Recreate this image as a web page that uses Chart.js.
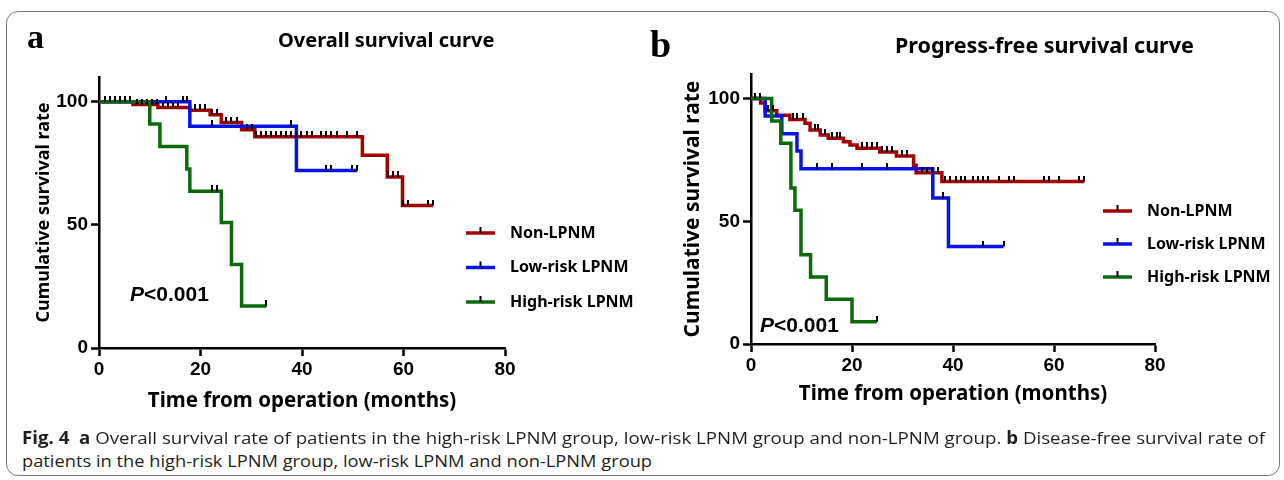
<!DOCTYPE html>
<html>
<head>
<meta charset="utf-8">
<script src="https://cdn.jsdelivr.net/npm/chart.js@4.4.1/dist/chart.umd.min.js"></script>
<style>
  body { margin: 0; background: #fff; }
  #page { position: relative; width: 1284px; height: 480px; overflow: hidden; background: #fff; }
  #frame { position: absolute; left: 6px; top: 11px; width: 1272px; height: 463px; border: 1px solid #7a7a7a; border-radius: 12px; }
  canvas { position: absolute; top: 0; }
  .letter { position: absolute; font-family: "Liberation Serif", "DejaVu Serif", serif; font-weight: bold; color: #000; }
  .title { position: absolute; font-family: "Noto Sans", sans-serif; font-weight: bold; color: #000; white-space: nowrap; }
  .pval { position: absolute; font-family: "Liberation Sans", Arial, sans-serif; font-weight: bold; font-size: 21px; color: #000; white-space: nowrap; }
  .caption { position: absolute; left: 22px; font-family: "Liberation Sans Narrow", "Open Sans", sans-serif; font-size: 17px; color: #231f20; white-space: nowrap; transform-origin: 0 0; }
</style>
</head>
<body>
<div id="page">
  <div id="frame"></div>
  <canvas id="chartA" width="640" height="430" style="left:0"></canvas>
  <canvas id="chartB" width="644" height="430" style="left:640px"></canvas>
  <div class="letter" style="left:27px; top:18px; font-size:34px;">a</div>
  <div class="letter" style="left:650px; top:22px; font-size:38px;">b</div>
  <div class="title" style="left:278px; top:26px; font-size:20px;">Overall survival curve</div>
  <div class="title" style="left:895px; top:30px; font-size:21.5px;">Progress-free survival curve</div>
  <div class="pval" style="left:130px; top:282px;"><i>P</i>&lt;0.001</div>
  <div class="pval" style="left:760px; top:313px;"><i>P</i>&lt;0.001</div>
  <div class="caption" id="cap1" style="top:426px;"><b>Fig. 4</b>&nbsp; <b>a</b> Overall survival rate of patients in the high-risk LPNM group, low-risk LPNM group and non-LPNM group. <b>b</b> Disease-free survival rate of</div>
  <div class="caption" id="cap2" style="top:449px;">patients in the high-risk LPNM group, low-risk LPNM and non-LPNM group</div>
</div>
<script>
// tick labels
const xTicks = [0, 20, 40, 60, 80]
const yTicks = [0, 50, 100]

const groupNames = ['Non-LPNM', 'Low-risk LPNM', 'High-risk LPNM']
const groupColors = ['#a50000', '#0a12e6', '#0b6a0b']

// panel a: overall survival (months, %)
const osNonTimes = [0, 6.7, 11.6, 17.9, 21.9, 24.1, 28.1, 30.7, 51.9, 56.8, 59.8, 65.8]
const osNonRates = [100, 98.8, 97.6, 96.5, 94.7, 91.5, 88.6, 85.7, 78.2, 69.4, 57.8, 57.8]
const osNonCensored = [1.2, 2.2, 3.1, 4.1, 5.1, 6.1, 7.4, 8.4, 9.4, 10.4, 11.4, 12.6, 13.6, 14.6, 15.6, 18.9, 19.9, 20.9, 22.2, 23.2, 25.1, 26.1, 27.1, 29.1, 30.1, 31, 31.9, 32.9, 33.9, 34.9, 35.9, 36.9, 37.9, 38.9, 39.9, 40.9, 41.9, 43.8, 44.8, 45.8, 46.8, 48.9, 50.9, 56.9, 57.9, 58.9, 59.9, 60.9, 64.8, 65.8]

const osLowTimes = [0, 17.9, 38.9, 50.9]
const osLowRates = [100, 90, 72, 72]
const osLowCensored = [13.3, 16.6, 17.3, 22.2, 37.9, 44.8, 45.8, 49.9, 50.9]

const osHighTimes = [0, 10, 12, 17.3, 17.9, 24.1, 26.1, 28.1, 33]
const osHighRates = [100, 90.9, 81.8, 72.7, 63.6, 50.9, 33.9, 17, 17]
const osHighCensored = [22.2, 23.2, 33]

// panel b: progress-free survival
const pfsNonTimes = [0, 1.9, 2.8, 5.1, 7.7, 10.7, 11.7, 13.7, 15.3, 18.3, 19.6, 21, 25.5, 28.8, 32.2, 32.7, 37.8, 66]
const pfsNonRates = [100, 98.2, 95, 93.2, 91.5, 89.9, 87.2, 85.1, 83.8, 82.4, 81.1, 79.7, 78.2, 76.6, 72.8, 69.8, 66.2, 66.2]
const pfsNonCensored = [0.8, 1.8, 3.4, 4.4, 8.4, 9.2, 10.2, 12.7, 13.3, 14.7, 16, 17, 17.7, 22, 23, 24, 24.9, 25.9, 26.9, 27.9, 29.9, 30.9, 33.9, 34.9, 35.9, 37, 38.5, 39.5, 40.5, 41.5, 42.4, 44, 45, 46, 47, 49.1, 51.1, 52, 58, 59, 61, 64.9, 65.9]

const pfsLowTimes = [0, 2.8, 6.1, 9.1, 9.9, 36, 39.1, 50]
const pfsLowRates = [100, 92.9, 85.7, 78.6, 71.4, 59.5, 39.7, 39.7]
const pfsLowCensored = [13, 16, 22, 26.9, 38, 46, 50]

const pfsHighTimes = [0, 4.1, 5.9, 7.9, 8.7, 9.9, 11.8, 14.9, 20, 24.9]
const pfsHighRates = [100, 90.9, 81.8, 63.6, 54.5, 36.4, 27.3, 18.2, 9.1, 9.1]
const pfsHighCensored = [24.9]


// small black censor mark sitting on top of the line
const censorMark = document.createElement('canvas')
censorMark.width = 2
censorMark.height = 12
censorMark.getContext('2d').fillRect(0, 0, 2, 6)

function rateAt(times, rates, t) {
    let r = rates[0]
    for (let i = 0; i < times.length; i++) {
        if (times[i] <= t) r = rates[i]
    }
    return r
}

function curveSets(curves) {
    const lines = []
    const marks = []
    curves.forEach((c, i) => {
        lines.push({
            data: c.times.map((t, k) => ({ x: t, y: c.rates[k] })),
            borderColor: groupColors[i],
            borderWidth: 3.5,
            stepped: 'before',
            pointRadius: 0,
            fill: false,
            order: 10 + (2 - i)
        })
        marks.push({
            data: c.censored.map(t => ({ x: t, y: rateAt(c.times, c.rates, t) })),
            showLine: false,
            pointStyle: censorMark,
            pointRadius: 3,
            order: 1
        })
    })
    return lines.concat(marks)
}

const kmLegend = {
    id: 'kmLegend',
    afterDraw(chart, args, opts) {
        const ctx = chart.ctx
        ctx.save()
        groupNames.forEach((name, i) => {
            const y = opts.y + i * opts.gap
            ctx.strokeStyle = groupColors[i]
            ctx.lineWidth = 3.5
            ctx.beginPath()
            ctx.moveTo(opts.x, y)
            ctx.lineTo(opts.x + 29, y)
            ctx.stroke()
            ctx.fillStyle = '#000'
            ctx.fillRect(opts.x + 13.5, y - 6, 2, 6)
            ctx.font = 'bold 16px "Noto Sans"'
            ctx.textBaseline = 'middle'
            ctx.fillText(name, opts.x + 44, y)
        })
        ctx.restore()
    }
}

function makePanel(id, curves, p) {
    const ctx = document.getElementById(id).getContext('2d')
    return new Chart(ctx, {
        type: 'line',
        data: { datasets: curveSets(curves) },
        plugins: [kmLegend],
        options: {
            responsive: false,
            animation: false,
            events: [],
            layout: { padding: { left: p.left, top: p.top, right: p.right, bottom: 0 } },
            plugins: {
                legend: { display: false },
                tooltip: { enabled: false },
                kmLegend: { x: p.legendX, y: p.legendY, gap: p.legendGap }
            },
            scales: {
                x: {
                    type: 'linear',
                    min: 0,
                    max: 80,
                    afterBuildTicks: s => { s.ticks = xTicks.map(v => ({ value: v })) },
                    afterFit: s => { s.height = p.xHeight },
                    border: { display: true, color: '#000', width: 2.5 },
                    grid: { drawOnChartArea: false, drawTicks: true, tickLength: 8, tickWidth: 2.5, tickColor: '#000' },
                    ticks: { color: '#000', padding: 2, maxRotation: 0, font: { family: 'Liberation Sans', weight: 'bold', size: 19 } },
                    title: {
                        display: true,
                        text: 'Time from operation (months)',
                        color: '#000',
                        font: { family: 'Noto Sans', weight: 'bold', size: 20.5 },
                        padding: { top: 0, bottom: p.xTitlePad }
                    }
                },
                y: {
                    min: 0,
                    max: 110,
                    afterBuildTicks: s => { s.ticks = yTicks.map(v => ({ value: v })) },
                    afterFit: s => { s.width = p.yWidth },
                    border: { display: true, color: '#000', width: 2.5 },
                    grid: { drawOnChartArea: false, drawTicks: true, tickLength: 8, tickWidth: 2.5, tickColor: '#000' },
                    ticks: { color: '#000', padding: 3, font: { family: 'Liberation Sans', weight: 'bold', size: 19 } },
                    title: {
                        display: true,
                        text: 'Cumulative survival rate',
                        color: '#000',
                        font: { family: 'Noto Sans', weight: 'bold', size: p.yTitleSize },
                        padding: { top: p.yTitlePad, bottom: 0 }
                    }
                }
            }
        }
    })
}

makePanel('chartA', [
    { times: osNonTimes, rates: osNonRates, censored: osNonCensored },
    { times: osLowTimes, rates: osLowRates, censored: osLowCensored },
    { times: osHighTimes, rates: osHighRates, censored: osHighCensored }
], { left: 20, top: 77, right: 135, yWidth: 79, xHeight: 82, xTitlePad: 17, yTitlePad: 13, yTitleSize: 18, legendX: 466, legendY: 233, legendGap: 34.5 })

makePanel('chartB', [
    { times: pfsNonTimes, rates: pfsNonRates, censored: pfsNonCensored },
    { times: pfsLowTimes, rates: pfsLowRates, censored: pfsLowCensored },
    { times: pfsHighTimes, rates: pfsHighRates, censored: pfsHighCensored }
], { left: 30, top: 74, right: 129, yWidth: 81, xHeight: 86, xTitlePad: 24, yTitlePad: 10, yTitleSize: 21, legendX: 463, legendY: 211, legendGap: 33 })

// squeeze the caption lines to the width they take in the figure
const capWidths = { cap1: 1243, cap2: 630 }
Object.keys(capWidths).forEach(id => {
    const el = document.getElementById(id)
    el.style.transform = 'scaleX(' + (capWidths[id] / el.offsetWidth) + ')'
})
</script>
</body>
</html>
